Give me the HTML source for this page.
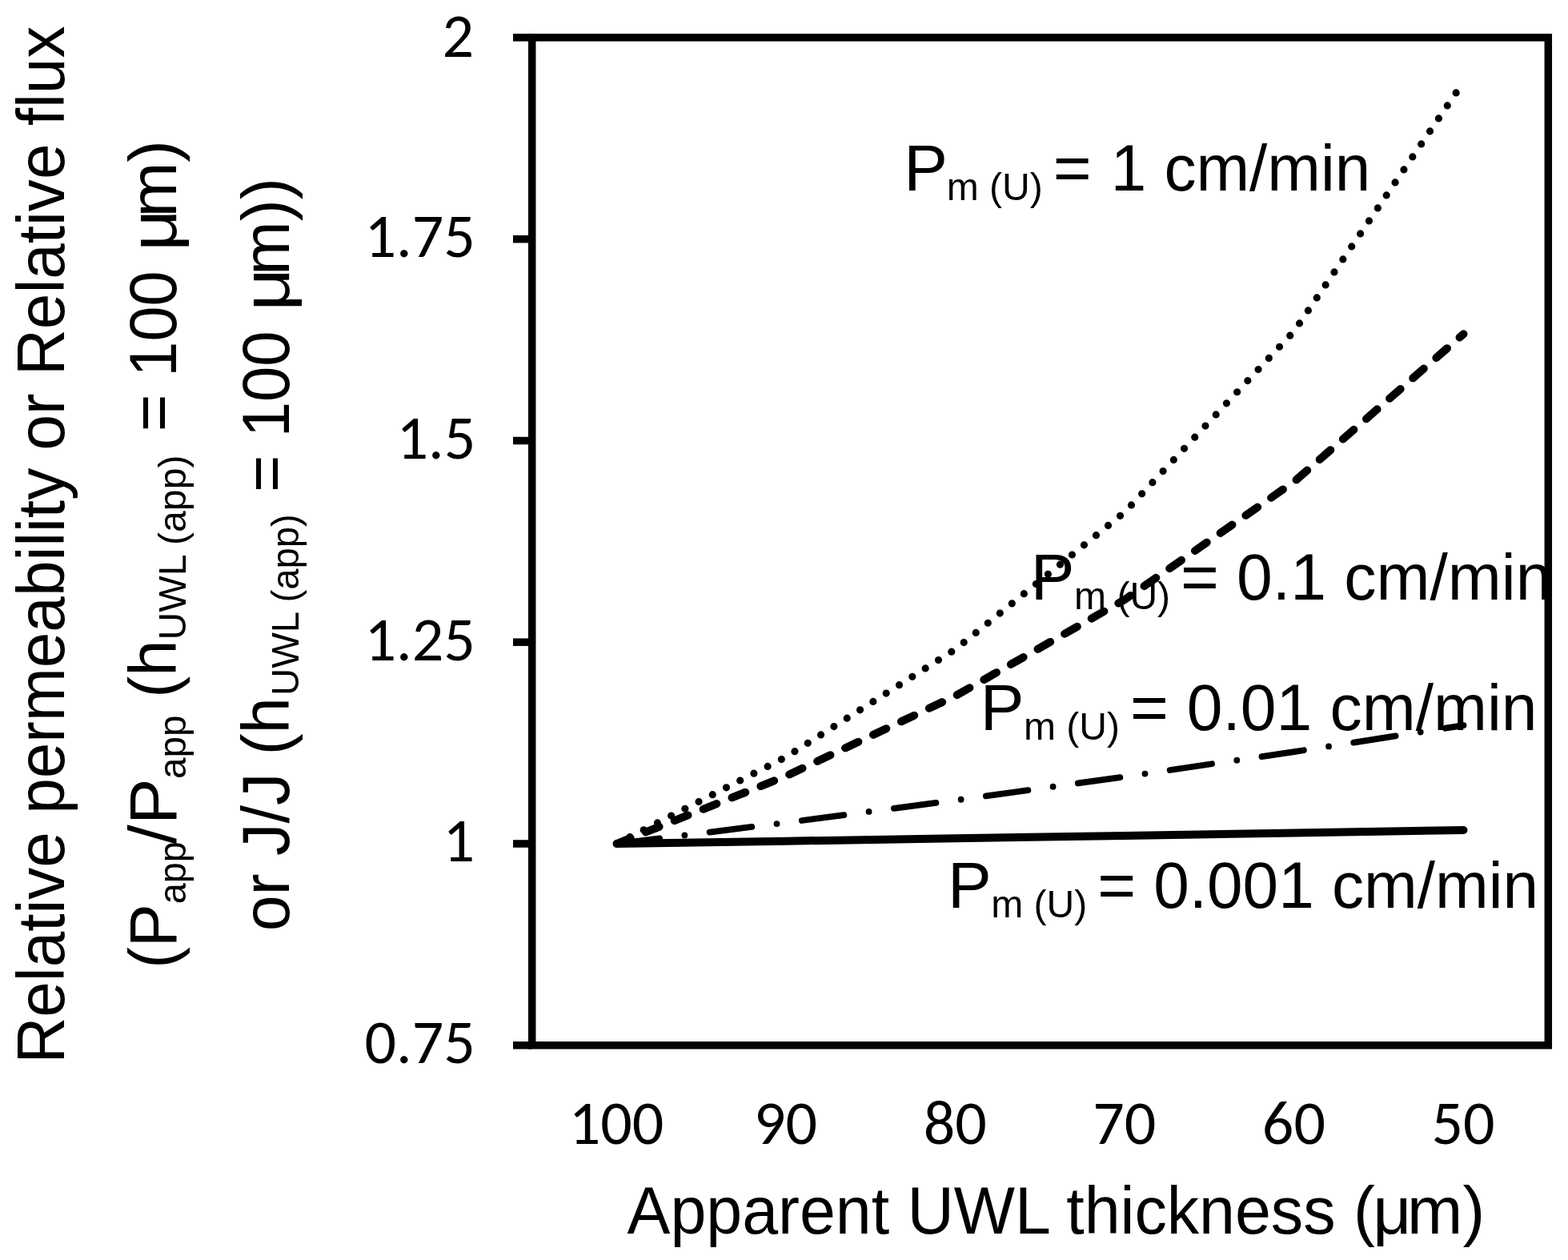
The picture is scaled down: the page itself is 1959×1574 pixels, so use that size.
<!DOCTYPE html><html><head><meta charset="utf-8"><title>Relative permeability vs apparent UWL thickness</title><style>html,body{margin:0;padding:0;background:#fff;overflow:hidden}svg{display:block}</style></head><body>
<svg width="1959" height="1574" viewBox="0 0 1959 1574">
<rect width="1959" height="1574" fill="#fff"/>
<defs><clipPath id="pc"><rect x="0" y="0" width="1939" height="1574"/></clipPath></defs>
<g fill="#000">
<text x="592.05" y="70.80" font-family="Carlito, Calibri, Liberation Sans, sans-serif" font-size="78" text-anchor="end">2</text>
<text x="593.80" y="321.08" font-family="Carlito, Calibri, Liberation Sans, sans-serif" font-size="78" text-anchor="end">1.75</text>
<text x="594.27" y="572.86" font-family="Carlito, Calibri, Liberation Sans, sans-serif" font-size="78" text-anchor="end">1.5</text>
<text x="593.80" y="824.64" font-family="Carlito, Calibri, Liberation Sans, sans-serif" font-size="78" text-anchor="end">1.25</text>
<text x="593.05" y="1076.42" font-family="Carlito, Calibri, Liberation Sans, sans-serif" font-size="78" text-anchor="end">1</text>
<text x="593.80" y="1328.20" font-family="Carlito, Calibri, Liberation Sans, sans-serif" font-size="78" text-anchor="end">0.75</text>
<text x="770.00" y="1429.4" font-family="Carlito, Calibri, Liberation Sans, sans-serif" font-size="78" text-anchor="middle">100</text>
<text x="981.60" y="1429.4" font-family="Carlito, Calibri, Liberation Sans, sans-serif" font-size="78" text-anchor="middle">90</text>
<text x="1193.20" y="1429.4" font-family="Carlito, Calibri, Liberation Sans, sans-serif" font-size="78" text-anchor="middle">80</text>
<text x="1404.80" y="1429.4" font-family="Carlito, Calibri, Liberation Sans, sans-serif" font-size="78" text-anchor="middle">70</text>
<text x="1616.40" y="1429.4" font-family="Carlito, Calibri, Liberation Sans, sans-serif" font-size="78" text-anchor="middle">60</text>
<text x="1828.00" y="1429.4" font-family="Carlito, Calibri, Liberation Sans, sans-serif" font-size="78" text-anchor="middle">50</text>
<g clip-path="url(#pc)">
<text transform="translate(783.60,1541.20) scale(0.9723,1)" x="0.00" font-family="Liberation Sans, Arial, Helvetica, sans-serif" font-size="83">Apparent UWL thickness (</text>
<text transform="translate(1720.20,1541.20) scale(1.0054,1)" x="-5.00" font-family="Liberation Sans, Arial, Helvetica, sans-serif" font-size="83">μ</text>
<text transform="translate(1763.10,1541.20) scale(1.0023,1)" x="-5.00" font-family="Liberation Sans, Arial, Helvetica, sans-serif" font-size="83">m)</text>
<text transform="translate(80.10,1322.80) rotate(-90) scale(0.9655,1)" x="-6.00" font-family="Liberation Sans, Arial, Helvetica, sans-serif" font-size="83">Relative permeability or Relative flux</text>
<text transform="translate(220.00,1205.00) rotate(-90) scale(0.9689,1)" x="-5.00" font-family="Liberation Sans, Arial, Helvetica, sans-serif" font-size="83">(P</text>
<text transform="translate(232.00,1127.40) rotate(-90) scale(0.9766,1)" x="-2.00" font-family="Liberation Sans, Arial, Helvetica, sans-serif" font-size="48">app</text>
<text transform="translate(220.00,1054.50) rotate(-90) scale(1.0473,1)" x="0.00" font-family="Liberation Sans, Arial, Helvetica, sans-serif" font-size="83">/P</text>
<text transform="translate(232.00,971.00) rotate(-90) scale(0.9909,1)" x="-2.00" font-family="Liberation Sans, Arial, Helvetica, sans-serif" font-size="48">app</text>
<text transform="translate(220.00,866.80) rotate(-90) scale(0.9781,1)" x="-5.00" font-family="Liberation Sans, Arial, Helvetica, sans-serif" font-size="83">(h</text>
<text transform="translate(232.00,796.60) rotate(-90) scale(1.0036,1)" x="-3.00" font-family="Liberation Sans, Arial, Helvetica, sans-serif" font-size="48">UWL (app)</text>
<text transform="translate(220.00,535.30) rotate(-90) scale(0.9562,1)" x="-4.00" font-family="Liberation Sans, Arial, Helvetica, sans-serif" font-size="83">= 100</text>
<text transform="translate(220.00,308.00) rotate(-90) scale(1.0811,1)" x="-5.00" font-family="Liberation Sans, Arial, Helvetica, sans-serif" font-size="83">μ</text>
<text transform="translate(220.00,266.50) rotate(-90) scale(0.9954,1)" x="-5.00" font-family="Liberation Sans, Arial, Helvetica, sans-serif" font-size="83">m)</text>
<text transform="translate(360.70,1160.30) rotate(-90) scale(0.9740,1)" x="-3.00" font-family="Liberation Sans, Arial, Helvetica, sans-serif" font-size="83">or J/J (h</text>
<text transform="translate(372.70,866.00) rotate(-90) scale(0.9853,1)" x="-3.00" font-family="Liberation Sans, Arial, Helvetica, sans-serif" font-size="48">UWL (app)</text>
<text transform="translate(360.70,611.20) rotate(-90) scale(0.9601,1)" x="-4.00" font-family="Liberation Sans, Arial, Helvetica, sans-serif" font-size="83">= 100</text>
<text transform="translate(360.70,382.90) rotate(-90) scale(1.1189,1)" x="-5.00" font-family="Liberation Sans, Arial, Helvetica, sans-serif" font-size="83">μ</text>
<text transform="translate(360.70,338.80) rotate(-90) scale(0.9748,1)" x="-5.00" font-family="Liberation Sans, Arial, Helvetica, sans-serif" font-size="83">m))</text>
<text transform="translate(1135.30,238.00)" x="-6.00" font-family="Liberation Sans, Arial, Helvetica, sans-serif" font-size="82">P</text>
<text transform="translate(1185.80,250.20)" x="-3.00" font-family="Liberation Sans, Arial, Helvetica, sans-serif" font-size="48">m (U)</text>
<text transform="translate(1319.80,238.00)" x="-4.00" font-family="Liberation Sans, Arial, Helvetica, sans-serif" font-size="82">=</text>
<text transform="translate(1393.60,238.00) scale(0.9758,1)" x="-6.00" font-family="Liberation Sans, Arial, Helvetica, sans-serif" font-size="82">1 cm/min</text>
<text transform="translate(1293.80,749.10)" x="-6.00" font-family="Liberation Sans, Arial, Helvetica, sans-serif" font-size="82">P</text>
<text transform="translate(1345.10,761.30)" x="-3.00" font-family="Liberation Sans, Arial, Helvetica, sans-serif" font-size="48">m (U)</text>
<text transform="translate(1479.10,749.10)" x="-4.00" font-family="Liberation Sans, Arial, Helvetica, sans-serif" font-size="82">=</text>
<text transform="translate(1548.00,749.10) scale(0.9812,1)" x="-3.00" font-family="Liberation Sans, Arial, Helvetica, sans-serif" font-size="82">0.1 cm/min</text>
<text transform="translate(1230.70,912.10)" x="-6.00" font-family="Liberation Sans, Arial, Helvetica, sans-serif" font-size="82">P</text>
<text transform="translate(1282.00,924.30)" x="-3.00" font-family="Liberation Sans, Arial, Helvetica, sans-serif" font-size="48">m (U)</text>
<text transform="translate(1416.00,912.10)" x="-4.00" font-family="Liberation Sans, Arial, Helvetica, sans-serif" font-size="82">=</text>
<text transform="translate(1485.70,912.10) scale(0.9802,1)" x="-3.00" font-family="Liberation Sans, Arial, Helvetica, sans-serif" font-size="82">0.01 cm/min</text>
<text transform="translate(1190.00,1133.80)" x="-6.00" font-family="Liberation Sans, Arial, Helvetica, sans-serif" font-size="82">P</text>
<text transform="translate(1241.30,1146.00)" x="-3.00" font-family="Liberation Sans, Arial, Helvetica, sans-serif" font-size="48">m (U)</text>
<text transform="translate(1375.30,1133.80)" x="-4.00" font-family="Liberation Sans, Arial, Helvetica, sans-serif" font-size="82">=</text>
<text transform="translate(1444.20,1133.80) scale(0.9769,1)" x="-3.00" font-family="Liberation Sans, Arial, Helvetica, sans-serif" font-size="82">0.001 cm/min</text>
</g></g>
<g fill="none" stroke="#000" stroke-linejoin="round">
<path d="M770.5,1054.0 L982.1,1050.7 L1193.7,1047.3 L1405.3,1043.9 L1616.9,1040.4 L1828.5,1037.0" stroke-width="10" stroke-linecap="round"/>
<path d="M770.5,1054.0 L982.1,1027.6 L1193.7,999.7 L1405.3,970.3 L1616.9,939.1 L1828.5,906.2" stroke-width="7.8" stroke-dasharray="53 31.5 0 31.55" stroke-dashoffset="-1" stroke-linecap="round"/>
<path d="M770.5,1054.0 L982.1,969.4 L1193.7,869.3 L1405.3,749.0 L1616.9,601.7 L1828.5,417.2" stroke-width="10" stroke-dasharray="18 20.65" stroke-dashoffset="-0.5" stroke-linecap="round"/>
<path d="M770.5,1054.0 L982.1,945.6 L1193.7,811.1 L1405.3,639.6 L1616.9,413.6 L1828.5,102.2" stroke-width="9.2" stroke-dasharray="0 19.34" stroke-dashoffset="0.84" stroke-linecap="round"/>
</g>
<g stroke="#000" fill="none">
<rect x="664.7" y="46.9" width="1269.6" height="1258.9" stroke-width="9.5"/>
<line x1="641" y1="46.9" x2="664.7" y2="46.9" stroke-width="9.5"/>
<line x1="641" y1="298.7" x2="664.7" y2="298.7" stroke-width="9.5"/>
<line x1="641" y1="550.5" x2="664.7" y2="550.5" stroke-width="9.5"/>
<line x1="641" y1="802.2" x2="664.7" y2="802.2" stroke-width="9.5"/>
<line x1="641" y1="1054.0" x2="664.7" y2="1054.0" stroke-width="9.5"/>
<line x1="641" y1="1305.8" x2="664.7" y2="1305.8" stroke-width="9.5"/>
</g>
</svg></body></html>
